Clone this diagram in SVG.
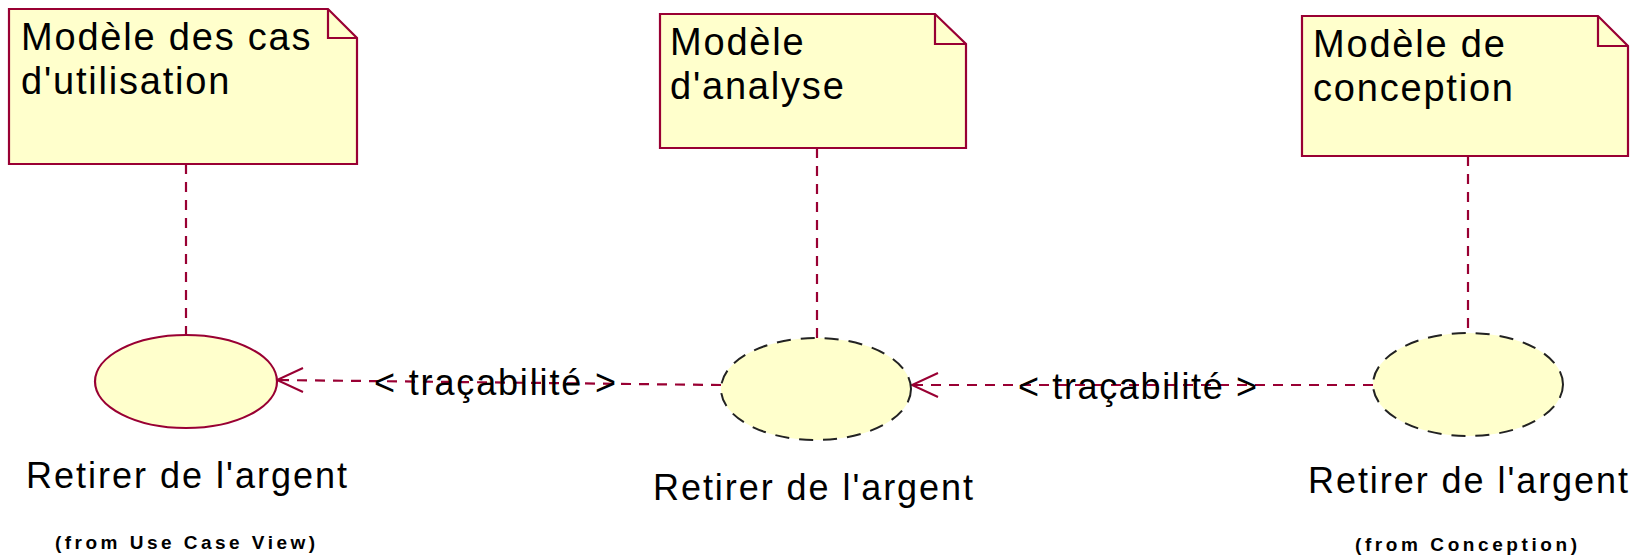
<svg xmlns="http://www.w3.org/2000/svg" width="1643" height="559" viewBox="0 0 1643 559">
  <style>
    .note { fill: #FFFFCC; stroke: #990033; stroke-width: 2.2; stroke-linejoin: miter; }
    .fold { fill: none; stroke: #990033; stroke-width: 2.2; }
    .uc-solid { fill: #FFFFCC; stroke: #990033; stroke-width: 2.2; }
    .uc-dashed { fill: #FFFFCC; stroke: #222222; stroke-width: 2; stroke-dasharray: 14 10; }
    .link { fill: none; stroke: #990033; stroke-width: 2.2; stroke-dasharray: 10 8; }
    .head { fill: none; stroke: #990033; stroke-width: 2; }
    .t { font-family: "Liberation Sans", Arial, sans-serif; fill: #000000; }
    .note-t { font-size: 38px; letter-spacing: 1.8px; }
    .uc-t { font-size: 36px; }
    .stereo { font-size: 36px; }
    .from { font-size: 19px; font-weight: bold; }
  </style>

  <!-- note anchors and dependency lines -->
  <g id="connectors">
    <line class="link" x1="186" y1="164" x2="186" y2="335"/>
    <line class="link" x1="817" y1="148" x2="817" y2="338"/>
    <line class="link" x1="1468" y1="156" x2="1468" y2="333"/>

    <line class="link" x1="721" y1="385" x2="277" y2="380"/>
    <polyline class="head" points="303,368 277,380 303,392"/>
    <text class="t stereo" x="374" y="395" textLength="242" lengthAdjust="spacing">&lt; traçabilité &gt;</text>

    <line class="link" x1="1373" y1="385" x2="912" y2="385"/>
    <polyline class="head" points="938,373 912,385 938,397"/>
    <text class="t stereo" x="1018" y="399" textLength="239" lengthAdjust="spacing">&lt; traçabilité &gt;</text>
  </g>

  <!-- notes -->
  <g id="note-cas-utilisation">
    <path class="note" d="M9,9 H328 L357,38 V164 H9 Z"/>
    <path class="fold" d="M328,9 V38 H357"/>
    <text class="t note-t" x="21" y="50">Modèle des cas</text>
    <text class="t note-t" x="21" y="94">d'utilisation</text>
  </g>

  <g id="note-analyse">
    <path class="note" d="M660,14 H935 L966,44 V148 H660 Z"/>
    <path class="fold" d="M935,14 V44 H966"/>
    <text class="t note-t" x="670" y="55">Modèle</text>
    <text class="t note-t" x="670" y="99">d'analyse</text>
  </g>

  <g id="note-conception">
    <path class="note" d="M1302,16 H1598 L1628,46 V156 H1302 Z"/>
    <path class="fold" d="M1598,16 V46 H1628"/>
    <text class="t note-t" x="1313" y="57">Modèle de</text>
    <text class="t note-t" x="1313" y="101">conception</text>
  </g>

  <!-- use cases -->
  <g id="uc-use-case-view">
    <ellipse class="uc-solid" cx="186" cy="381.5" rx="91" ry="46.5"/>
    <text class="t uc-t" x="26" y="488" textLength="321" lengthAdjust="spacing">Retirer de l'argent</text>
    <text class="t from" x="55" y="549" textLength="260" lengthAdjust="spacing">(from Use Case View)</text>
  </g>

  <g id="uc-analyse">
    <ellipse class="uc-dashed" cx="816" cy="389" rx="95" ry="51"/>
    <text class="t uc-t" x="653" y="500" textLength="320" lengthAdjust="spacing">Retirer de l'argent</text>
  </g>

  <g id="uc-conception">
    <ellipse class="uc-dashed" cx="1468" cy="384.5" rx="95" ry="51.5"/>
    <text class="t uc-t" x="1308" y="493" textLength="320" lengthAdjust="spacing">Retirer de l'argent</text>
    <text class="t from" x="1355" y="551" textLength="222" lengthAdjust="spacing">(from Conception)</text>
  </g>
</svg>
